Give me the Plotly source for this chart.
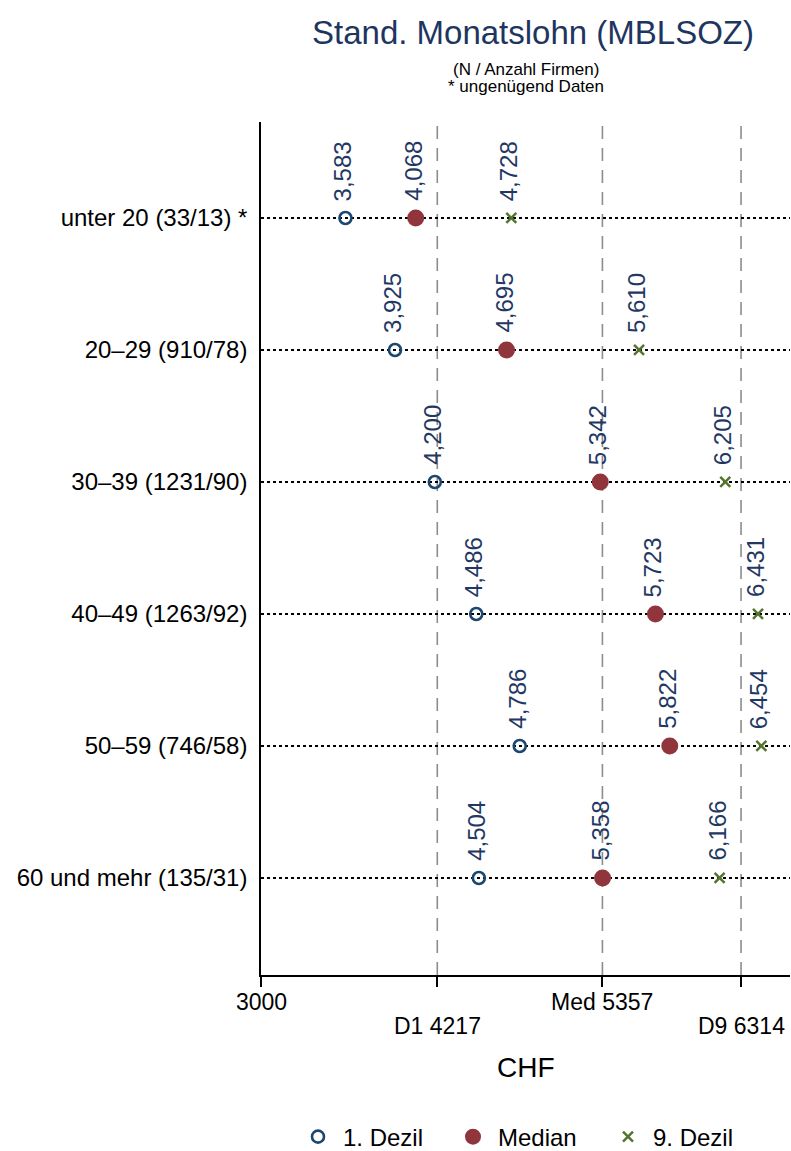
import plotly.graph_objects as go

categories = ["unter 20 (33/13) *", "20\u201329 (910/78)", "30\u201339 (1231/90)",
              "40\u201349 (1263/92)", "50\u201359 (746/58)", "60 und mehr (135/31)"]
dezil1 = [3583, 3925, 4200, 4486, 4786, 4504]
median = [4068, 4695, 5342, 5723, 5822, 5358]
dezil9 = [4728, 5610, 6205, 6431, 6454, 6166]

ref_vals = [4217, 5357, 6314]
tick_vals = [3000, 4217, 5357, 6314]
tick_text = ["3000", "D1 4217", "Med 5357", "D9 6314"]
tick_row = [0, 1, 0, 1]

FONT = "Liberation Sans, Arial, sans-serif"
NAVY = "#1a476f"
LABEL = "#1f3864"
MAROON = "#90353b"
GREEN = "#55752f"
TITLE = "#1e3560"

ypos = list(range(len(categories)))

fig = go.Figure()
fig.add_trace(go.Scatter(x=dezil1, y=ypos, mode="markers", name="1. Dezil",
                         marker=dict(symbol="circle-open", size=12, color=NAVY,
                                     line=dict(width=2.6, color=NAVY))))
fig.add_trace(go.Scatter(x=median, y=ypos, mode="markers", name="Median",
                         marker=dict(symbol="circle", size=17, color=MAROON)))
fig.add_trace(go.Scatter(x=dezil9, y=ypos, mode="markers", name="9. Dezil",
                         marker=dict(symbol="x-thin-open", size=10, color=GREEN,
                                     line=dict(width=2.5, color=GREEN))))

ann = []
for series in (dezil1, median, dezil9):
    for i, v in enumerate(series):
        ann.append(dict(x=v, y=i, xref="x", yref="y", text=f"{v:,}", showarrow=False,
                        textangle=-90, xanchor="center", yanchor="bottom", yshift=15,
                        xshift=-2, font=dict(family=FONT, size=24, color=LABEL)))

for v, t, r in zip(tick_vals, tick_text, tick_row):
    ann.append(dict(x=v, y=0, xref="x", yref="paper", text=t, showarrow=False,
                    xanchor="center", yanchor="middle", yshift=-27 - 24 * r,
                    font=dict(family=FONT, size=23, color="black")))

ann.append(dict(x=0.5, y=0, xref="paper", yref="paper", text="CHF", showarrow=False,
                xanchor="center", yanchor="middle", yshift=-92,
                font=dict(family=FONT, size=28, color="black")))
ann.append(dict(x=0.514, y=1, xref="paper", yref="paper", text="Stand. Monatslohn (MBLSOZ)",
                showarrow=False, xanchor="center", yanchor="middle", yshift=90,
                font=dict(family=FONT, size=33, color=TITLE)))
ann.append(dict(x=0.5, y=1, xref="paper", yref="paper", text="(N / Anzahl Firmen)",
                showarrow=False, xanchor="center", yanchor="middle", yshift=53,
                font=dict(family=FONT, size=17, color="black")))
ann.append(dict(x=0.5, y=1, xref="paper", yref="paper", text="* ungenügend Daten",
                showarrow=False, xanchor="center", yanchor="middle", yshift=36,
                font=dict(family=FONT, size=17, color="black")))

shapes = []
for v in ref_vals:
    shapes.append(dict(type="line", xref="x", yref="paper", x0=v, x1=v, y0=0, y1=1,
                       line=dict(color="#8c8c8c", width=1.6, dash="13px,9px"), layer="below"))

fig.update_layout(
    width=791, height=1151, autosize=False,
    margin=dict(l=261, r=1, t=122, b=176, autoexpand=False),
    paper_bgcolor="white", plot_bgcolor="white",
    font=dict(family=FONT, size=18, color="black"),
    showlegend=True,
    legend=dict(orientation="h", x=0.5, xanchor="center", y=-0.19, yanchor="middle",
                font=dict(family=FONT, size=24, color="black"), itemwidth=40,
                entrywidth=100, tracegroupgap=0),
    annotations=ann, shapes=shapes,
    xaxis=dict(range=[3000, 6652], tickvals=tick_vals, ticktext=[""] * len(tick_vals),
               showticklabels=False, ticks="outside", ticklen=10, tickwidth=1.5,
               tickcolor="black", showgrid=False, zeroline=False, showline=True,
               linecolor="black", linewidth=1.5),
    yaxis=dict(range=[5.735, -0.727], tickvals=ypos, ticktext=categories,
               ticks="", showgrid=True, gridcolor="black", gridwidth=2, griddash="dot",
               zeroline=False, showline=True, linecolor="black", linewidth=1.5,
               tickfont=dict(family=FONT, size=24, color="black"), ticklabelstandoff=7),
)

fig.write_html("out.html", default_width="791px", default_height="1151px",
               config={"responsive": False, "displayModeBar": False},
               post_script="document.body.style.margin='0';document.body.style.overflow='hidden';")
